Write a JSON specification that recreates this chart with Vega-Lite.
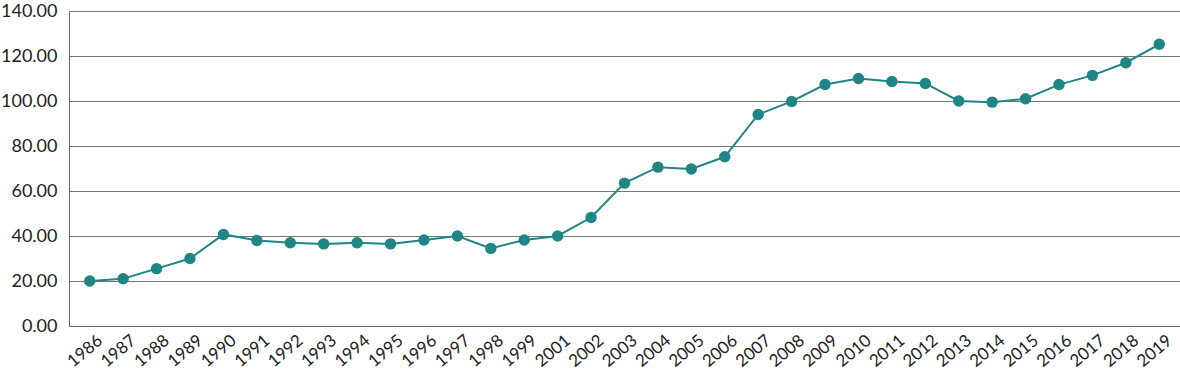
{
  "$schema": "https://vega.github.io/schema/vega-lite/v6.json",
  "width": 1180,
  "height": 374,
  "autosize": {"type": "fit", "contains": "padding"},
  "padding": {"left": 0, "top": 2, "right": 0, "bottom": 4},
  "config": {"view": {"stroke": null}, "font": "Lato"},
  "data": {"values": [
    {"year": "1986", "value": 20.0},
    {"year": "1987", "value": 21.0},
    {"year": "1988", "value": 25.5},
    {"year": "1989", "value": 30.0},
    {"year": "1990", "value": 40.7},
    {"year": "1991", "value": 38.0},
    {"year": "1992", "value": 37.0},
    {"year": "1993", "value": 36.5},
    {"year": "1994", "value": 37.0},
    {"year": "1995", "value": 36.5},
    {"year": "1996", "value": 38.2},
    {"year": "1997", "value": 40.0},
    {"year": "1998", "value": 34.5},
    {"year": "1999", "value": 38.2},
    {"year": "2001", "value": 40.0},
    {"year": "2002", "value": 48.2},
    {"year": "2003", "value": 63.5},
    {"year": "2004", "value": 70.6},
    {"year": "2005", "value": 69.8},
    {"year": "2006", "value": 75.2},
    {"year": "2007", "value": 94.0},
    {"year": "2008", "value": 99.8},
    {"year": "2009", "value": 107.3},
    {"year": "2010", "value": 110.0},
    {"year": "2011", "value": 108.7},
    {"year": "2012", "value": 107.8},
    {"year": "2013", "value": 100.0},
    {"year": "2014", "value": 99.5},
    {"year": "2015", "value": 101.0},
    {"year": "2016", "value": 107.3},
    {"year": "2017", "value": 111.4},
    {"year": "2018", "value": 117.0},
    {"year": "2019", "value": 125.2}
  ]},
  "encoding": {
    "x": {
      "field": "year", "type": "ordinal",
      "scale": {"type": "point", "padding": 0.62},
      "axis": {
        "title": null, "labelAngle": -40, "labelFontSize": 17, "labelColor": "#222",
        "ticks": false, "domain": true, "domainColor": "#666", "labelPadding": 6,
        "labelAlign": "right", "labelBaseline": "top", "labelOffset": 5
      }
    },
    "y": {
      "field": "value", "type": "quantitative",
      "scale": {"domain": [0, 140]},
      "axis": {
        "title": null, "values": [0, 20, 40, 60, 80, 100, 120, 140], "format": ".2f",
        "labelFontSize": 18, "labelColor": "#222", "ticks": false, "domain": true,
        "domainColor": "#666", "gridColor": "#777", "gridWidth": 1, "labelPadding": 12
      }
    }
  },
  "layer": [
    {"mark": {"type": "line", "color": "#208585", "strokeWidth": 2}},
    {"mark": {"type": "circle", "color": "#208585", "size": 130, "opacity": 1}}
  ]
}
